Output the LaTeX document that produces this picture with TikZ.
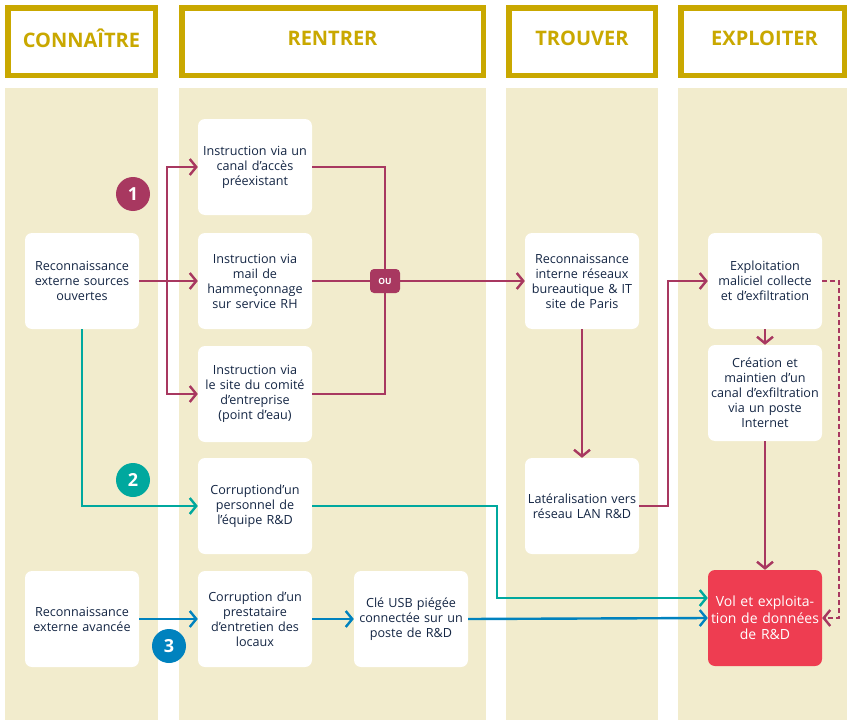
\documentclass[tikz,border=0pt]{standalone}
\usepackage{fontspec}
\setmainfont{Open Sans}
\usetikzlibrary{positioning,arrows.meta}
\definecolor{gold}{RGB}{201,168,0}
\definecolor{beige}{RGB}{242,236,205}
\definecolor{ink}{RGB}{20,38,68}
\definecolor{maroon}{RGB}{168,56,96}
\definecolor{teal}{RGB}{0,168,158}
\definecolor{sea}{RGB}{0,130,190}
\definecolor{alert}{RGB}{238,61,81}
\begin{document}
\begin{tikzpicture}[x=1pt,y=-1pt,
  box/.style={fill=white,rounded corners=7pt,minimum width=114pt,minimum height=96pt,text width=113pt,inner sep=0.5pt,align=center,text=ink,font=\fontsize{12.6}{15}\selectfont},
  head/.style={draw=gold,line width=5.5pt,fill=white,text=gold,font=\bfseries\fontsize{20}{20}\selectfont,minimum height=67.5pt},
  badge/.style={circle,fill=#1,text=white,minimum size=34pt,inner sep=0pt,font=\bfseries\fontsize{18}{18}\selectfont},
  wire/.style={line width=2.4pt,draw=#1},
  arr/.style={-{Straight Barb[length=6.5pt,width=16pt]}}
]
\useasboundingbox (0,0) rectangle (847,720);

\fill[beige] (5,88) rectangle (158,720);
\fill[beige] (179,88) rectangle (486,720);
\fill[beige] (506,88) rectangle (658,720);
\fill[beige] (678,88) rectangle (847,720);

\node[head,minimum width=147.5pt] (h1) at (81.5,41.5) {};
\node[head,minimum width=301.5pt] (h2) at (332.5,41.5) {};
\node[head,minimum width=146.5pt] (h3) at (582,41.5) {};
\node[head,minimum width=163.5pt] (h4) at (762.5,41.5) {};
\node[text=gold,font=\bfseries\fontsize{20}{20}\selectfont] at (81.5,38.5) {CONNAÎTRE};
\node[text=gold,font=\bfseries\fontsize{20}{20}\selectfont] at (332.5,38.5) {RENTRER};
\node[text=gold,font=\bfseries\fontsize{20}{20}\selectfont] at (582,38.5) {TROUVER};
\node[text=gold,font=\bfseries\fontsize{20}{20}\selectfont] at (764.5,38.5) {EXPLOITER};

\node[box] (rs) at (82,281) {Reconnaissance\\externe sources\\ouvertes};
\node[box] (ra) at (82,619) {Reconnaissance\\externe avancée};

\node[box] (ca) at (255,167) {Instruction via un\\canal d’accès\\préexistant};
\node[box] (mail) at (255,281) {Instruction via\\mail de\\hammeçonnage\\sur service RH};
\node[box] (site) at (255,394) {Instruction via\\le site du comité\\d’entreprise\\(point d’eau)};
\node[box] (cp) at (255,506) {Corruptiond’un\\personnel de\\l’équipe R\&D};
\node[box] (pr) at (255,619) {Corruption d’un\\prestataire\\d’entretien des\\locaux};
\node[box] (usb) at (411,619) {Clé USB piégée\\connectée sur un\\poste de R\&D};

\node[box] (ri) at (582,281) {Reconnaissance\\interne réseaux\\bureautique \& IT\\site de Paris};
\node[box] (lat) at (582,506) {Latéralisation vers\\réseau LAN R\&D};

\node[box] (ex) at (765,281) {Exploitation\\maliciel collecte\\et d’exfiltration};
\node[box] (cr) at (765,393) {Création et\\maintien d’un\\canal d’exfiltration\\via un poste\\Internet};
\node[box,fill=alert,text=white,font=\fontsize{14}{16.5}\selectfont] (vol) at (765,618) {Vol et exploita-\\tion de données\\de R\&D};

\node[badge=maroon] (n1) at (133,194) {1};
\node[badge=teal] (n2) at (133,480) {2};
\node[badge=sea] (n3) at (169,646) {3};

\coordinate (t1) at (167,281);
\draw[wire=maroon,arr] (rs.east) -- (mail.west);
\draw[wire=maroon,arr] (t1) |- (ca.west);
\draw[wire=maroon,arr] (t1) |- (site.west);
\draw[wire=maroon] (ca.east) -| (385,269);
\draw[wire=maroon] (site.east) -| (385,293);
\draw[wire=maroon] (mail.east) -- (370,281);
\node[fill=maroon,rounded corners=4pt,text=white,font=\bfseries\fontsize{8.5}{8.5}\selectfont,minimum width=30pt,minimum height=24pt,inner sep=0pt] (ou) at (385,281) {OU};
\draw[wire=maroon,arr] (ou.east) -- (ri.west);
\draw[wire=maroon,arr] (ri.south) -- (lat.north);
\draw[wire=maroon,arr] (lat.east) -- ++(29,0) |- (ex.west);
\draw[wire=maroon,arr] (ex.south) -- (cr.north);
\draw[wire=maroon,arr] (cr.south) -- (vol.north);
\draw[wire=maroon,arr,dash pattern=on 5pt off 3pt] (ex.east) -- ++(17,0) |- (vol.east);

\draw[wire=teal,arr] (rs.south) |- (cp.west);
\draw[wire=teal,arr] (cp.east) -- ++(185,0) |- ([yshift=20pt]vol.west);

\draw[wire=sea,arr] (ra.east) -- (pr.west);
\draw[wire=sea,arr] (pr.east) -- (usb.west);
\draw[wire=sea,arr] (usb.east) -- (vol.west);

\end{tikzpicture}
\end{document}
